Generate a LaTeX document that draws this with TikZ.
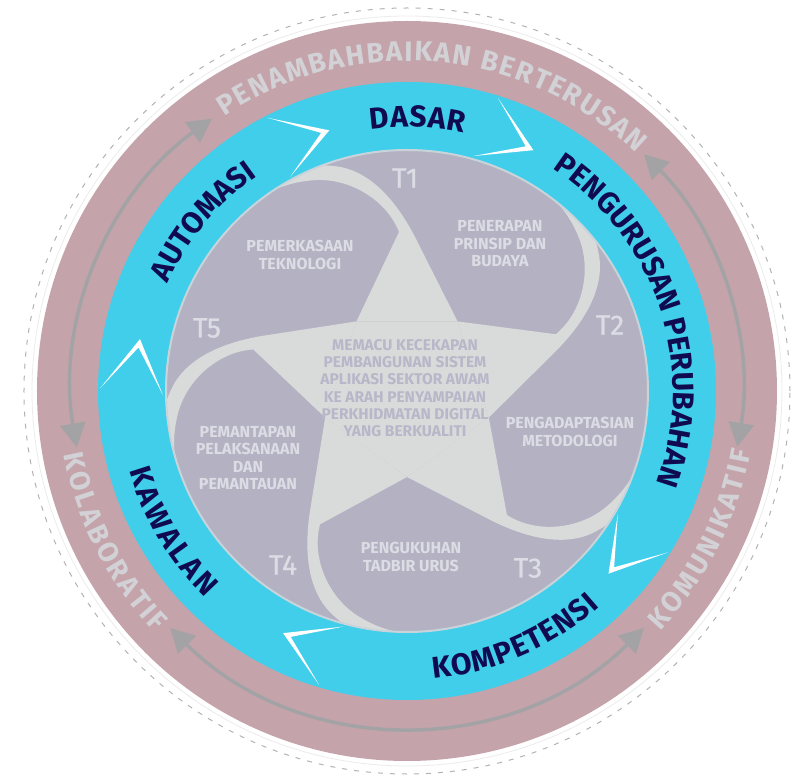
\documentclass[tikz,border=0pt]{standalone}
\usepackage{fontspec}
\setmainfont{Fira Sans}
\newfontfamily\tmarkfont{Fira Sans}[FakeBold=0.8]
\usetikzlibrary{arrows.meta,decorations.text}
\definecolor{mauve}{HTML}{C4A4AA}
\definecolor{cyanring}{HTML}{40CEEB}
\definecolor{disk}{HTML}{B4B2C2}
\definecolor{starfill}{HTML}{D9DBDB}
\definecolor{disktext}{HTML}{DCDCE4}
\definecolor{coretext}{HTML}{B8B6C8}
\definecolor{navy}{HTML}{100A50}
\definecolor{ringtext}{HTML}{D2D2D6}
\definecolor{arrowgrey}{HTML}{A3A3A6}
\definecolor{diskedge}{HTML}{C8D4DA}
\newcommand{\ringfont}{\bfseries\fontsize{28}{32}\selectfont}
\newcommand{\bandfont}{\bfseries\fontsize{30}{36}\selectfont}
\newcommand{\arclabel}[6]{\path[decorate,decoration={text along path,text align=fit to path,text color=#6,text={|#5|#1}}] (#2:#4) arc[start angle=#2,end angle=#3,radius=#4];}
\tikzset{
  tlabel/.style={text=disktext, font=\tmarkfont\fontsize{28}{32}\selectfont},
  area/.style={text=disktext, align=center, font=\bfseries\fontsize{16}{17.5}\selectfont},
  core/.style={text=coretext, align=center, font=\bfseries\fontsize{15.5}{17.3}\selectfont},
  cycarrow/.style={arrowgrey, line width=3.5pt, {Triangle[length=24pt,width=25pt]}-{Triangle[length=24pt,width=25pt]}},
  chevron/.style={fill=white}
}

\begin{document}
\begin{tikzpicture}[x=1pt,y=1pt]
\useasboundingbox (-407,-388) rectangle (386,391);
\draw[black!8, line width=0.8pt] (0,0) circle (375);
\draw[black!30, line width=1pt, dash pattern=on 5pt off 7pt] (0,0) circle (383);
\fill[mauve] (0,0) circle (370);
\fill[cyanring] (0,0) circle (309);
\fill[disk] (0,0) circle (241);
\begin{scope}
  \clip (0,0) circle (241);
  \fill[starfill] (126:86) -- (54:86) -- (-18:86) -- (-90:86) -- (198:86) -- cycle;
  \foreach \k in {0,...,4}
    \fill[starfill, rotate=-72*\k] (126:86) -- (-8,159) .. controls (-20,190) and (-55,212) .. (-90,211)
      .. controls (-110,210) and (-125,205) .. (-135,200) -- (-150,218)
      .. controls (-115,228) and (-95,227) .. (-74,225) .. controls (-35,222) and (-8,185) .. (8,154)
      -- (54:86) -- cycle;
\end{scope}
\draw[diskedge, line width=2pt] (0,0) circle (241);
\foreach \a in {106.6,62.3,-42.2,242.9,169}
  \fill[chevron] (\a+10.5:307) -- (\a:272) -- (\a+12:244) -- (\a+1.8:272) -- cycle;
\draw[cycarrow] (125.6:335) arc[start angle=125.6, end angle=189.7, radius=335];
\draw[cycarrow] (45:335) arc[start angle=45, end angle=-9.6, radius=335];
\draw[cycarrow] (225:335) arc[start angle=225, end angle=315, radius=335];
\arclabel{PENAMBAHBAIKAN BERTERUSAN}{123.6}{46.1}{330}{\ringfont}{ringtext}
\arclabel{KOMUNIKATIF}{-43.5}{-10}{349}{\ringfont}{ringtext}
\arclabel{KOLABORATIF}{190.5}{223.8}{349}{\ringfont}{ringtext}
\arclabel{DASAR}{98}{77.6}{264}{\bandfont}{navy}
\arclabel{PENGURUSAN PERUBAHAN}{56.8}{-19.7}{266}{\bandfont}{navy}
\arclabel{AUTOMASI}{155.8}{125.3}{262}{\bandfont}{navy}
\arclabel{KOMPETENSI}{-84.8}{-48.2}{289}{\bandfont}{navy}
\arclabel{KAWALAN}{196}{225.7}{289}{\bandfont}{navy}
\node[tlabel] (t1) at (-2,213) {T1};
\node[tlabel] (t2) at (203,66) {T2};
\node[tlabel] (t3) at (121,-177) {T3};
\node[tlabel] (t4) at (-124,-174) {T4};
\node[tlabel] (t5) at (-200,63) {T5};
\node[area] (tek) at (-107,136) {PEMERKASAAN\\TEKNOLOGI};
\node[area] (pri) at (93,147) {PENERAPAN\\PRINSIP DAN\\BUDAYA};
\node[area] (met) at (163,-41) {PENGADAPTASIAN\\METODOLOGI};
\node[area] (tad) at (4,-166) {PENGUKUHAN\\TADBIR URUS};
\node[area] (pel) at (-159,-67) {PEMANTAPAN\\PELAKSANAAN\\DAN\\PEMANTAUAN};
\node[core] (core) at (-2,3) {MEMACU KECEKAPAN\\PEMBANGUNAN SISTEM\\APLIKASI SEKTOR AWAM\\KE ARAH PENYAMPAIAN\\PERKHIDMATAN DIGITAL\\YANG BERKUALITI};
\end{tikzpicture}
\end{document}
